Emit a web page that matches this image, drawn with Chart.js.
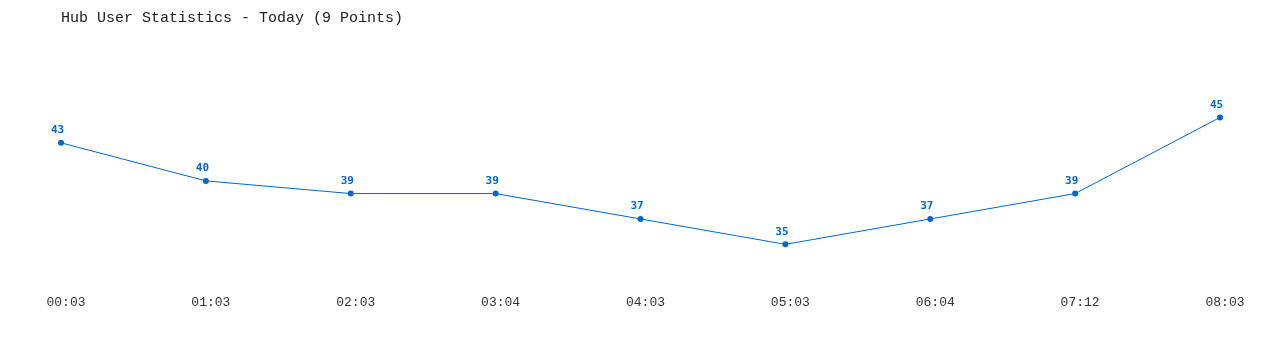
<!DOCTYPE html>
<html>
<head>
<meta charset="utf-8">
<script src="https://cdn.jsdelivr.net/npm/chart.js@4/dist/chart.umd.min.js"></script>
<style>
  html, body { margin: 0; padding: 0; background: #fff; }
  #wrap { width: 1280px; height: 350px; }
</style>
</head>
<body>
<div id="wrap"><canvas id="userChart"></canvas></div>
<script>
// chart data
const times = ["00:03", "01:03", "02:03", "03:04", "04:03", "05:03", "06:04", "07:12", "08:03"];
const users = [43, 40, 39, 39, 37, 35, 37, 39, 45];

const blue = "#0066cc";

// draw the value above each point
const pointValues = {
    id: "pointValues",
    afterDatasetsDraw(chart) {
        const ctx = chart.ctx;
        const meta = chart.getDatasetMeta(0);
        ctx.save();
        ctx.font = "bold 11px 'DejaVu Sans Mono', monospace";
        ctx.fillStyle = blue;
        ctx.textAlign = "center";
        ctx.textBaseline = "bottom";
        meta.data.forEach((pt, i) => {
            ctx.fillText(String(users[i]), pt.x - 3.5, pt.y - 7);
        });
        ctx.restore();
    }
};

new Chart(document.getElementById("userChart"), {
    type: "line",
    data: {
        labels: times,
        datasets: [{
            data: users,
            borderColor: blue,
            backgroundColor: blue,
            borderWidth: 1,
            pointRadius: 3,
            pointHoverRadius: 3,
            pointBackgroundColor: blue,
            pointBorderWidth: 0,
            tension: 0,
            fill: false
        }]
    },
    options: {
        responsive: true,
        maintainAspectRatio: false,
        animation: false,
        layout: { padding: { left: 61, right: 60, top: 0, bottom: 28 } },
        plugins: {
            legend: { display: false },
            tooltip: { enabled: false },
            title: {
                display: true,
                text: "Hub User Statistics - Today (9 Points)",
                align: "start",
                color: "#222",
                font: { family: "'Liberation Mono', monospace", size: 15, weight: "normal" },
                padding: { top: 9, bottom: 27 }
            }
        },
        scales: {
            x: {
                offset: false,
                grid: { display: false, drawTicks: false },
                border: { display: false },
                ticks: {
                    color: "#333",
                    padding: 12,
                    labelOffset: 5,
                    maxRotation: 0,
                    autoSkip: false,
                    font: { family: "'Liberation Mono', monospace", size: 13 }
                }
            },
            y: {
                display: false,
                min: 32,
                max: 50
            }
        }
    },
    plugins: [pointValues]
});
</script>
</body>
</html>
